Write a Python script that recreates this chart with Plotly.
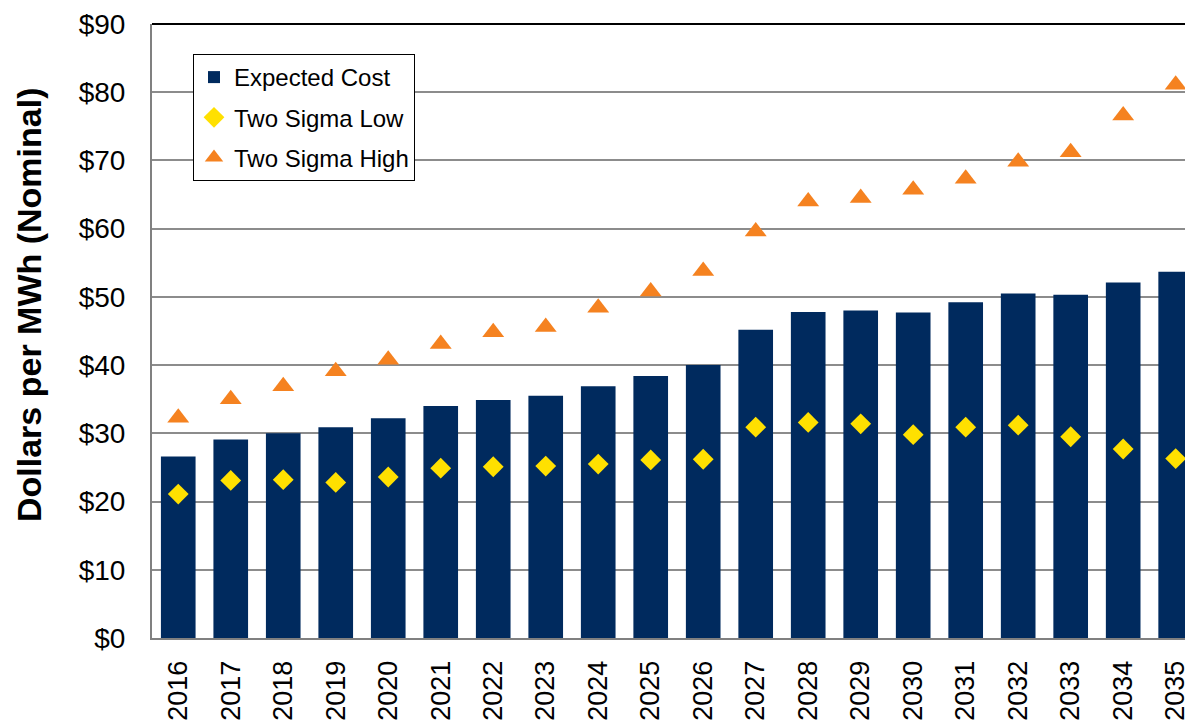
import plotly.graph_objects as go

years = [str(y) for y in range(2016, 2036)]
expected_cost = [26.6, 29.1, 30.0, 30.9, 32.2, 34.0, 34.9, 35.5, 36.9, 38.4,
                 40.0, 45.2, 47.8, 48.0, 47.7, 49.2, 50.5, 50.3, 52.1, 53.7]
two_sigma_low = [21.1, 23.1, 23.2, 22.8, 23.6, 24.9, 25.1, 25.2, 25.5, 26.1,
                 26.2, 30.9, 31.6, 31.4, 29.8, 30.9, 31.2, 29.5, 27.7, 26.3]
two_sigma_high = [32.3, 35.0, 36.9, 39.1, 40.8, 43.1, 44.8, 45.6, 48.4, 50.8,
                  53.8, 59.6, 64.0, 64.5, 65.7, 67.3, 69.8, 71.2, 76.6, 81.1]
y_ticks = list(range(0, 100, 10))
y_tick_labels = [f"${v}" for v in y_ticks]

FONT = "Arial, 'Liberation Sans', sans-serif"

fig = go.Figure()
fig.add_trace(go.Bar(x=years, y=expected_cost, name="Expected Cost",
                     marker=dict(color="#002A5E", line=dict(width=0)),
                     width=0.66, legendgroup="a"))
fig.add_trace(go.Scatter(x=years, y=two_sigma_low, name="Two Sigma Low", mode="markers",
                         marker=dict(symbol="diamond", size=16, color="#FFE000"),
                         legendgroup="b"))
fig.add_trace(go.Scatter(x=years, y=two_sigma_high, name="Two Sigma High", mode="markers",
                         marker=dict(symbol="triangle-up", size=19, color="#F58220"),
                         legendgroup="c"))

# page has an 8px body margin; figure sized to fit the 1193x721 viewport
fig.update_layout(
    width=1185, height=713,
    margin=dict(l=144, r=0, t=16, b=83, autoexpand=False),
    paper_bgcolor="white", plot_bgcolor="white",
    font=dict(family=FONT, color="black"),
    showlegend=True,
    legend=dict(x=(193 - 152) / 1041, y=(638 - 54) / 614, xanchor="left", yanchor="top",
                bordercolor="black", borderwidth=1, bgcolor="white",
                font=dict(size=24, family=FONT), tracegroupgap=6,
                traceorder="grouped", itemwidth=30),
    bargap=0.34,
)
fig.update_xaxes(type="category", range=[-0.5, 19.33], automargin=False,
                 showline=True, linecolor="#808080", linewidth=2,
                 showgrid=False, ticks="", tickangle=-90,
                 tickfont=dict(size=27, family=FONT),
                 ticklabelstandoff=10)
fig.update_yaxes(range=[0, 90], tickvals=y_ticks, ticktext=y_tick_labels, automargin=False,
                 showline=True, linecolor="#808080", linewidth=2,
                 showgrid=True, gridcolor="#8C8C8C", gridwidth=1.5,
                 zeroline=False, ticks="",
                 tickfont=dict(size=28, family=FONT),
                 ticklabelstandoff=19)
fig.add_shape(type="line", xref="paper", yref="paper", x0=0, x1=1, y0=1, y1=1,
              line=dict(color="black", width=2))
fig.add_annotation(text="<b>Dollars per MWh (Nominal)</b>", textangle=-90,
                   xref="paper", yref="paper", x=(29 - 152) / 1041, y=(638 - 305) / 614,
                   xanchor="center", yanchor="middle", showarrow=False,
                   font=dict(size=34, family=FONT, color="black"))

fig.write_html("out.html")
